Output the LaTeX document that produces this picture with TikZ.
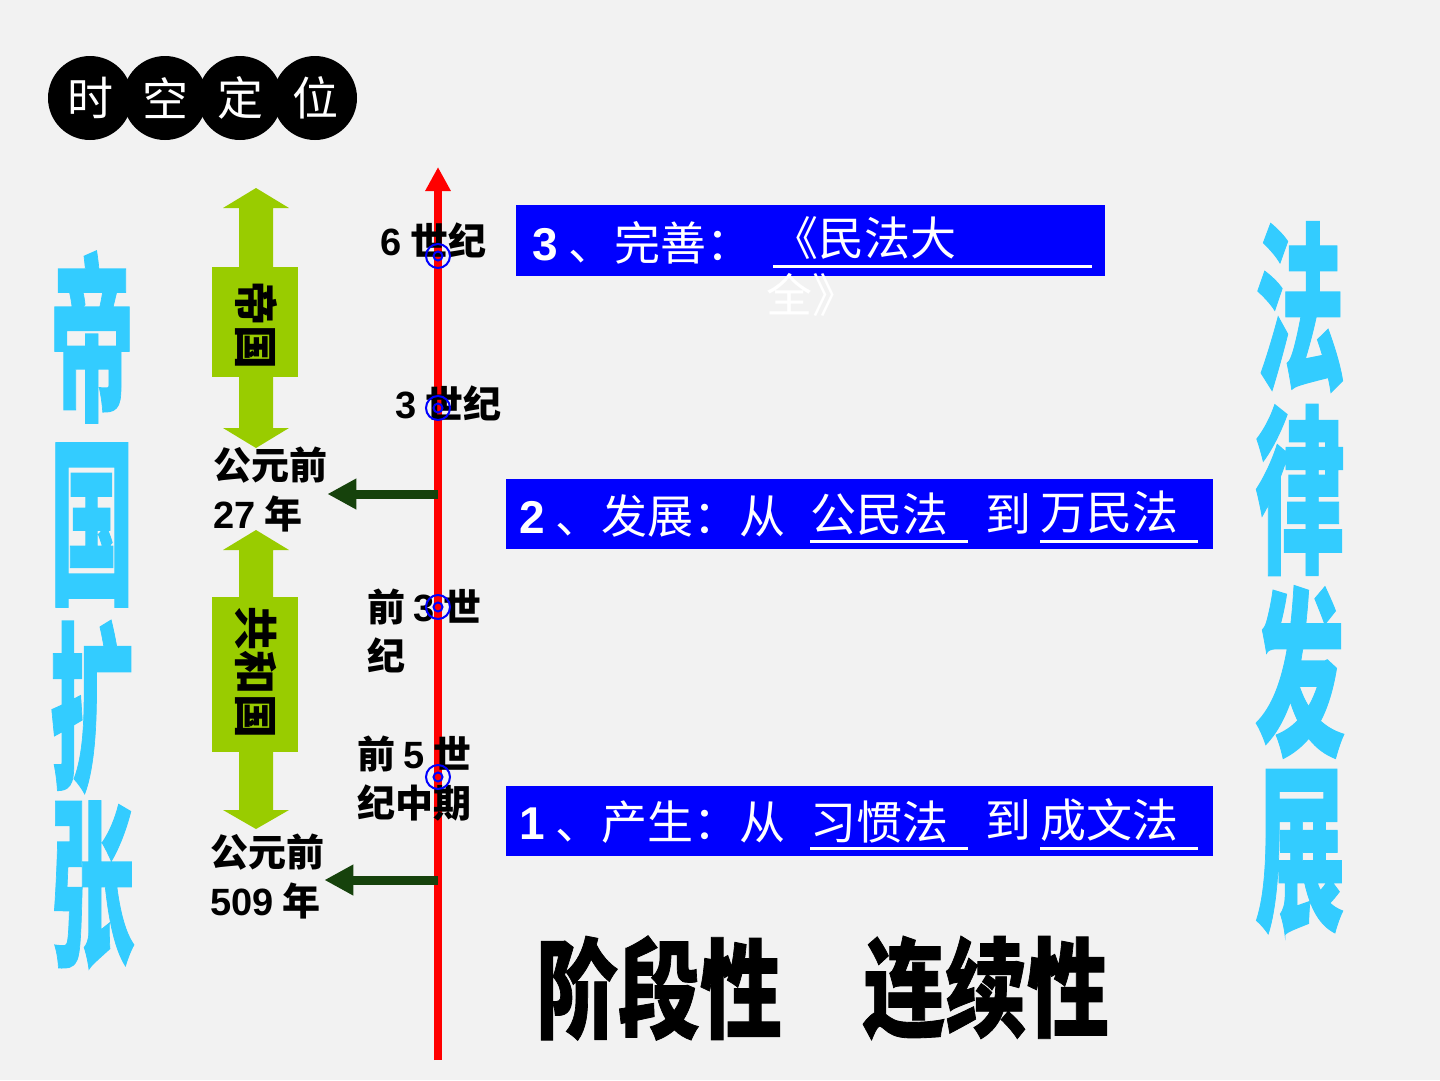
\documentclass[tikz,border=0pt]{standalone}
\usepackage{fontspec}
\usetikzlibrary{arrows.meta}
\setmainfont{Liberation Sans}
\newfontfamily\cjk{Noto Sans CJK SC}
\newfontfamily\cjkh{Noto Sans CJK SC}[FakeBold=0.8]
\newcommand\dg[1]{{\rmfamily\bfseries #1}}
\definecolor{bg}{RGB}{242,242,242}
\definecolor{cyanT}{RGB}{51,204,255}
\definecolor{lgreen}{RGB}{153,204,0}
\definecolor{dgreen}{RGB}{22,66,12}
\definecolor{bblue}{RGB}{0,0,255}
\tikzset{
  badge/.style={circle,fill=black,minimum size=84pt,inner sep=0pt,text=white,font=\cjk\fontsize{46}{46}\selectfont},
  mk/.style={circle,draw=bblue,line width=2pt,minimum size=24pt,inner sep=0pt},
  mki/.style={circle,draw=bblue,line width=2pt,minimum size=9pt,inner sep=0pt},
  lab/.style={inner sep=0pt,align=left,font=\cjk\bfseries\fontsize{38}{49}\selectfont},
  dgarrow/.style={draw=dgreen,line width=9pt,-{Triangle[length=29pt,width=29pt]}},
  gbox/.style={rectangle,fill=lgreen,inner sep=0pt,minimum width=86pt},
  vtxt/.style={inner sep=0pt,font=\cjk\bfseries\fontsize{44}{44}\selectfont},
  bbox/.style={rectangle,fill=bblue,inner sep=0pt,anchor=north west},
  wt/.style={inner sep=0pt,anchor=west,text=white,font=\cjk\fontsize{46}{46}\selectfont},
  ul/.style={draw=white,line width=3pt},
  bigc/.style={inner sep=0pt,text=cyanT,font=\cjkh\bfseries\fontsize{180}{180}\selectfont},
  bigk/.style={inner sep=0pt,text=black,font=\cjkh\bfseries\fontsize{108}{108}\selectfont},
}
\begin{document}
\begin{tikzpicture}[x=1pt,y=-1pt]
\fill[bg] (0,0) rectangle (1440,1080);
\useasboundingbox (0,0) rectangle (1440,1080);

% badge
\node[badge] (b1) at (90,98) {时};
\node[badge] (b2) at (165,98) {空};
\node[badge] (b3) at (240,98) {定};
\node[badge] (b4) at (315,98) {位};

% big cyan vertical texts
\node[bigc] (l1) at (92,337) {\scalebox{0.47}[1]{帝}};
\node[bigc] (l2) at (92,525) {\scalebox{0.47}[1]{国}};
\node[bigc] (l3) at (92,707) {\scalebox{0.47}[1]{扩}};
\node[bigc] (l4) at (92,885) {\scalebox{0.47}[1]{张}};
\node[bigc] (r1) at (1300,307) {\scalebox{0.5}[1]{法}};
\node[bigc] (r2) at (1300,490) {\scalebox{0.5}[1]{律}};
\node[bigc] (r3) at (1300,672) {\scalebox{0.5}[1]{发}};
\node[bigc] (r4) at (1300,852) {\scalebox{0.5}[1]{展}};

% green double arrows
\fill[lgreen] (256,188) -- (289,208) -- (273,208) -- (273,428) -- (289,428) -- (256,448)
  -- (223,428) -- (239,428) -- (239,208) -- (223,208) -- cycle;
\node[gbox,minimum height=110pt] (emp) at (255,322) {};
\node[vtxt,rotate=-90] (empt) at (256,325) {帝国};
\fill[lgreen] (256,530) -- (289,550) -- (273,550) -- (273,810) -- (289,810) -- (256,829)
  -- (223,810) -- (239,810) -- (239,550) -- (223,550) -- cycle;
\node[gbox,minimum height=155pt] (rep) at (255,674.5) {};
\node[vtxt,rotate=-90] (rept) at (256,672) {共和国};

% red time axis
\coordinate (axb) at (438,1060);
\coordinate (axt) at (438,167);
\draw[red,line width=8pt,-{Triangle[length=24pt,width=24pt]}] (axb) -- (axt);

% labels on axis
\node[lab,anchor=west] (L6) at (380,240) {\dg{6} 世纪};
\node[lab,anchor=west] (L3) at (395,403) {\dg{3} 世纪};
\node[lab,anchor=west] (Lq3) at (367,631) {前 \dg{3} 世\\纪};
\node[lab,anchor=west] (Lq5) at (357,779) {前 \dg{5} 世\\纪中期};
\node[lab,anchor=west] (L27) at (213,490) {公元前\\\dg{27} 年};
\node[lab,anchor=west] (L509) at (210,877) {公元前\\\dg{509} 年};

% markers
\node[mk] (m6) at (438,256) {};
\node[mki] (m6i) at (m6) {};
\node[mk] (m3) at (438,408) {};
\node[mki] (m3i) at (m3) {};
\node[mk] (mq3) at (438,607) {};
\node[mki] (mq3i) at (mq3) {};
\node[mk] (mq5) at (438,777) {};
\node[mki] (mq5i) at (mq5) {};

% dark green arrows
\coordinate (t27) at (438,494);
\coordinate (t509) at (438,880);
\draw[dgarrow] (t27) -- (L27.east |- t27);
\draw[dgarrow] (t509) -- (L509.east |- t509);

% blue boxes
\node[bbox,minimum width=589pt,minimum height=71pt] (B3) at (516,205) {};
\node[wt] (B3a) at (532,243) {\dg{3} 、完善：};
\node[wt] (B3b) at (772,238) {《民法大};
\draw[ul] (773,266) -- (1092,266);
\node[wt] (B3c) at (766,295) {全》};

\node[bbox,minimum width=707pt,minimum height=70pt] (B2) at (506,479) {};
\node[wt] (B2a) at (519,516) {\dg{2} 、发展：从};
\node[wt] (B2b) at (810,514) {公民法};
\node[wt] (B2c) at (985,514) {到};
\node[wt] (B2d) at (1040,512) {万民法};
\draw[ul] (810,541) -- (968,541);
\draw[ul] (1040,541) -- (1198,541);

\node[bbox,minimum width=707pt,minimum height=70pt] (B1) at (506,786) {};
\node[wt] (B1a) at (519,822) {\dg{1} 、产生：从};
\node[wt] (B1b) at (810,822) {习惯法};
\node[wt] (B1c) at (985,820) {到};
\node[wt] (B1d) at (1040,820) {成文法};
\draw[ul] (810,848) -- (968,848);
\draw[ul] (1040,848) -- (1198,848);

% bottom text
\node[bigk] (k1) at (659,988) {\scalebox{0.76}[1]{阶段性}};
\node[bigk] (k2) at (986,988) {\scalebox{0.76}[1]{连续性}};
\end{tikzpicture}
\end{document}
